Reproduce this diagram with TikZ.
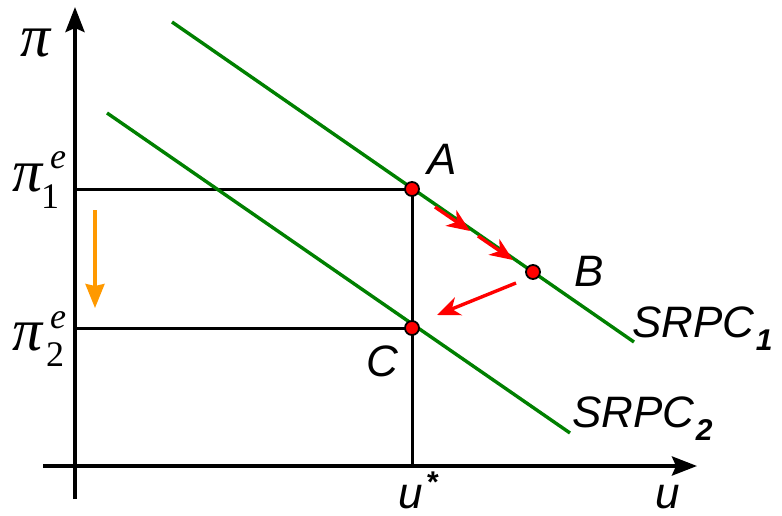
\documentclass[tikz,border=0pt]{standalone}
\usepackage{fontspec}
\setmainfont{Liberation Serif}
\newfontfamily\arialfont{Liberation Sans}
\usetikzlibrary{arrows.meta}
\definecolor{curvegreen}{RGB}{0,128,0}
\definecolor{arrred}{RGB}{255,0,0}
\definecolor{arrorange}{RGB}{255,153,0}
\tikzset{
  axisline/.style={line width=3.8pt, -{Stealth[length=25pt,width=19pt,inset=4pt]}},
  guide/.style={line width=3pt},
  curve/.style={line width=3.4pt, curvegreen},
  movearrow/.style={line width=3.4pt, arrred, -{Stealth[length=23pt,width=19pt,inset=7pt]}},
  droparrow/.style={line width=3.2pt, arrorange, -{Stealth[length=24pt,width=19pt,inset=2pt]}},
  pt/.style={circle, fill=arrred, draw=black, line width=1.8pt, inner sep=0pt, minimum size=14pt},
  lab/.style={font=\arialfont\itshape\fontsize{44}{44}\selectfont, inner sep=0pt},
  sublab/.style={font=\arialfont\bfseries\itshape\fontsize{30}{30}\selectfont, inner sep=0pt},
  greek/.style={font=\itshape\fontsize{60}{60}\selectfont, inner sep=0pt},
  sup/.style={font=\itshape\fontsize{36}{36}\selectfont, inner sep=0pt},
  sub/.style={font=\fontsize{36}{36}\selectfont, inner sep=0pt}
}
\begin{document}
\begin{tikzpicture}[x=1pt,y=-1pt]
\useasboundingbox (0,0) rectangle (782,516);
% axes
\coordinate (ybot) at (75,499);
\coordinate (ytop) at (75,7);
\coordinate (xleft) at (43,466);
\coordinate (xright) at (697,466);
\draw[axisline] (ybot) -- (ytop);
\draw[axisline] (xleft) -- (xright);
% key points
\coordinate (A) at (412,189);
\coordinate (B) at (533,272);
\coordinate (C) at (412,328);
\coordinate (ustar) at (412,466);
\coordinate (p1) at (75,189);
\coordinate (p2) at (75,328);
% guides
\draw[guide] (p1) -- (A);
\draw[guide] (p2) -- (C);
\draw[guide] (A) -- (ustar);
% curves
\coordinate (s1a) at (172,22);
\coordinate (s1b) at (634,342);
\coordinate (s2a) at (107,113);
\coordinate (s2b) at (570,433);
\draw[curve] (s1a) -- (s1b);
\draw[curve] (s2a) -- (s2b);
% arrows
\coordinate (r1a) at (435,207);
\coordinate (r1b) at (470,231);
\coordinate (r2a) at (478,236);
\coordinate (r2b) at (513,260);
\coordinate (r3a) at (516,283);
\coordinate (r3b) at (437,315);
\draw[movearrow] (r1a) -- (r1b);
\draw[movearrow] (r2a) -- (r2b);
\draw[movearrow] (r3a) -- (r3b);
\coordinate (oa) at (95,210);
\coordinate (ob) at (95,308);
\draw[droparrow] (oa) -- (ob);
% points
\node[pt] (nA) at (A) {};
\node[pt] (nB) at (B) {};
\node[pt] (nC) at (C) {};
% labels
\node[lab] (labA) at (442,159) {A};
\node[lab] (labB) at (589,271) {B};
\node[lab] (labC) at (382,361) {C};
\node[lab, anchor=base west] (labS1) at (632,337) {SRPC};
\node[sublab, anchor=base west] (labS1sub) at (labS1.base east) [xshift=1pt, yshift=-13pt] {1};
\node[lab, anchor=base west] (labS2) at (572,427) {SRPC};
\node[sublab, anchor=base west] (labS2sub) at (labS2.base east) [xshift=1pt, yshift=-13pt] {2};
\node[lab, anchor=base] (labu) at (668,508) {u};
\node[lab, anchor=base] (labus) at (411,508) {u};
\node[font=\arialfont\bfseries\fontsize{30}{30}\selectfont, inner sep=0pt] (labstar) at (433,482) {*};
\node[greek] (labpi) at (36,43) {π};
\node[greek] (labpi1) at (28,178) {π};
\node[sup] (labe1) at (58,160) {e};
\node[sub] (lab1) at (50,197) {1};
\node[greek] (labpi2) at (28,337) {π};
\node[sup] (labe2) at (58,320) {e};
\node[sub] (lab2) at (55,355) {2};
\end{tikzpicture}
\end{document}
